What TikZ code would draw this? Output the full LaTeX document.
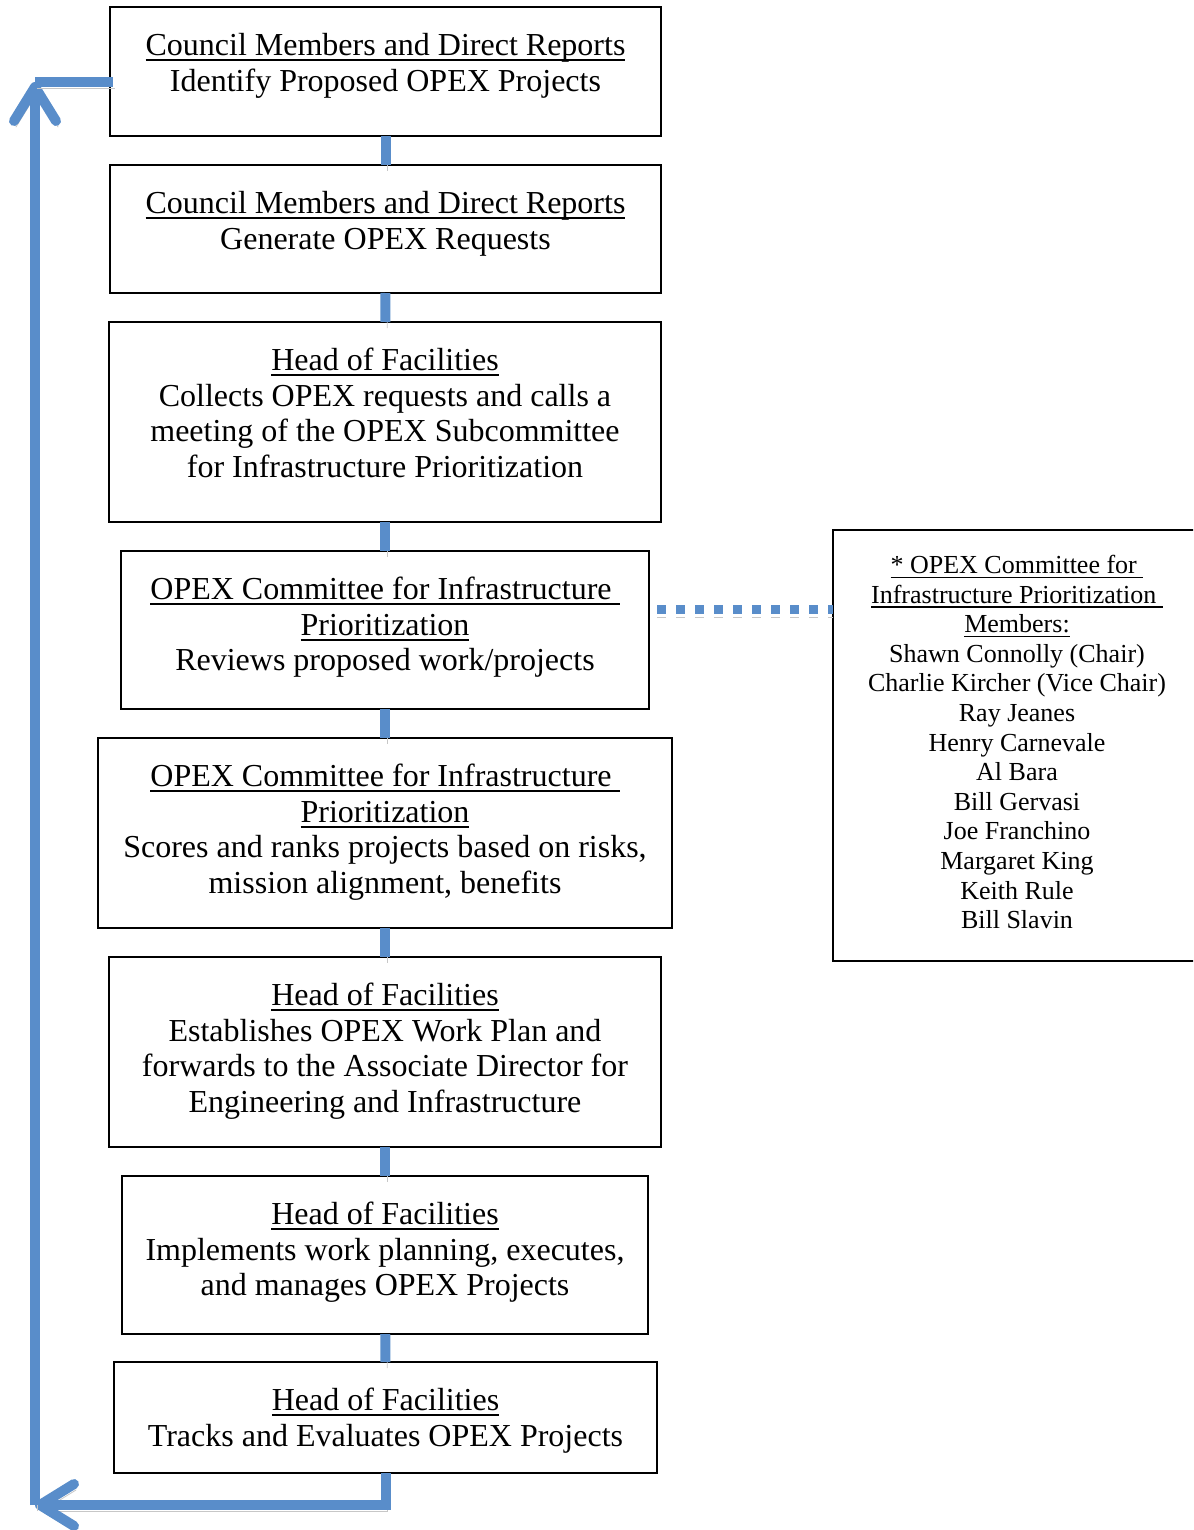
\documentclass[tikz,border=0pt]{standalone}
\usepackage{fontspec}
\setmainfont{Liberation Serif}
\usetikzlibrary{positioning,arrows.meta}

\definecolor{flowblue}{RGB}{89,141,202}
% underlined heading, trailing spaces kept
\newcommand{\uhead}[1]{\setbox0\hbox{#1}\rlap{\rule[-0.18em]{\wd0}{0.06em}}\box0}

\tikzset{
  stepbox/.style={draw=black, line width=1pt, inner sep=0pt, outer sep=0pt},
  steptext/.style={align=center, inner sep=0pt, font=\fontsize{16}{17.85}\selectfont},
  membertext/.style={align=center, inner sep=0pt, font=\fontsize{13}{14.8}\selectfont},
  bluelink/.style={draw=flowblue, line width=5pt,
    preaction={draw=black!22, transform canvas={xshift=1pt,yshift=-3pt}}},
  dotlink/.style={draw=flowblue, line width=4.5pt, dash pattern=on 4.5pt off 5pt,
    preaction={draw=black!22, dash pattern=on 4.5pt off 5pt, transform canvas={yshift=-4pt}}},
  loopend/.style={-{Straight Barb[length=17pt,width=21pt,round]}}
}

\begin{document}
\begin{tikzpicture}[x=0.5pt,y=0.5pt]
    \useasboundingbox (0,0) rectangle (1193,-1530);
    \clip (0,0) rectangle (1193,-1530);
    % Cajas
    \node[stepbox, minimum width=275.5pt, minimum height=64.5pt] (identify) at (385.5,-71.5) {};
    \node[stepbox, minimum width=275.5pt, minimum height=64pt] (generate) at (385.5,-229) {};
    \node[stepbox, minimum width=276pt, minimum height=100pt] (collect) at (385,-422) {};
    \node[stepbox, minimum width=264pt, minimum height=79pt] (review) at (385,-630) {};
    \node[stepbox, minimum width=287pt, minimum height=95pt] (score) at (385,-833) {};
    \node[stepbox, minimum width=276pt, minimum height=95pt] (plan) at (385,-1052) {};
    \node[stepbox, minimum width=263pt, minimum height=79pt] (implement) at (385,-1255) {};
    \node[stepbox, minimum width=271.5pt, minimum height=55.5pt] (track) at (385.5,-1417.5) {};
    \node[stepbox, minimum width=184pt, minimum height=215.5pt] (members) at (1017,-745.5) {};
    % Textos
    \node[steptext, below=11.5pt of identify.north] (identifytext)
        {\strut\uhead{Council Members and Direct Reports}\\ Identify Proposed OPEX Projects};
    \node[steptext, below=11.5pt of generate.north] (generatetext)
        {\strut\uhead{Council Members and Direct Reports}\\ Generate OPEX Requests};
    \node[steptext, below=11.5pt of collect.north] (collecttext)
        {\strut\uhead{Head of Facilities}\\ Collects OPEX requests and calls a\\
         meeting of the OPEX Subcommittee\\ for Infrastructure Prioritization};
    \node[steptext, below=11.5pt of review.north] (reviewtext)
        {\strut\uhead{OPEX Committee for Infrastructure\ }\\ \uhead{Prioritization}\\
         Reviews proposed work/projects};
    \node[steptext, below=11.5pt of score.north] (scoretext)
        {\strut\uhead{OPEX Committee for Infrastructure\ }\\ \uhead{Prioritization}\\
         Scores and ranks projects based on risks,\\ mission alignment, benefits};
    \node[steptext, below=11.5pt of plan.north] (plantext)
        {\strut\uhead{Head of Facilities}\\ Establishes OPEX Work Plan and\\
         forwards to the Associate Director for\\ Engineering and Infrastructure};
    \node[steptext, below=11.5pt of implement.north] (implementtext)
        {\strut\uhead{Head of Facilities}\\ Implements work planning, executes,\\
         and manages OPEX Projects};
    \node[steptext, below=11.5pt of track.north] (tracktext)
        {\strut\uhead{Head of Facilities}\\ Tracks and Evaluates OPEX Projects};
    \node[membertext, below=11.15pt of members.north] (memberstext)
        {\strut\uhead{* OPEX Committee for\ }\\ \uhead{Infrastructure Prioritization\ }\\
         \uhead{Members:}\\ Shawn Connolly (Chair)\\ Charlie Kircher (Vice Chair)\\
         Ray Jeanes\\ Henry Carnevale\\ Al Bara\\ Bill Gervasi\\ Joe Franchino\\
         Margaret King\\ Keith Rule\\ Bill Slavin};
    % Conectores
    \draw[bluelink] (identify) -- (generate);
    \draw[bluelink] (generate) -- (collect);
    \draw[bluelink] (collect) -- (review);
    \draw[bluelink] (review) -- (score);
    \draw[bluelink] (score) -- (plan);
    \draw[bluelink] (plan) -- (implement);
    \draw[bluelink] (implement) -- (track);
    \draw[dotlink, shorten <=4pt] (review.east |- 0,-609) -- (members.west |- 0,-609);
    % Retorno
    \coordinate (loopbl) at (35,-1505);
    \coordinate (looptl) at (35,-82);
    \draw[bluelink, loopend] (track.south) |- (loopbl);
    \draw[bluelink, loopend] (loopbl) -- (looptl);
    \draw[bluelink] (looptl) -- ([xshift=1.5pt]identify.west |- looptl);
\end{tikzpicture}
\end{document}
